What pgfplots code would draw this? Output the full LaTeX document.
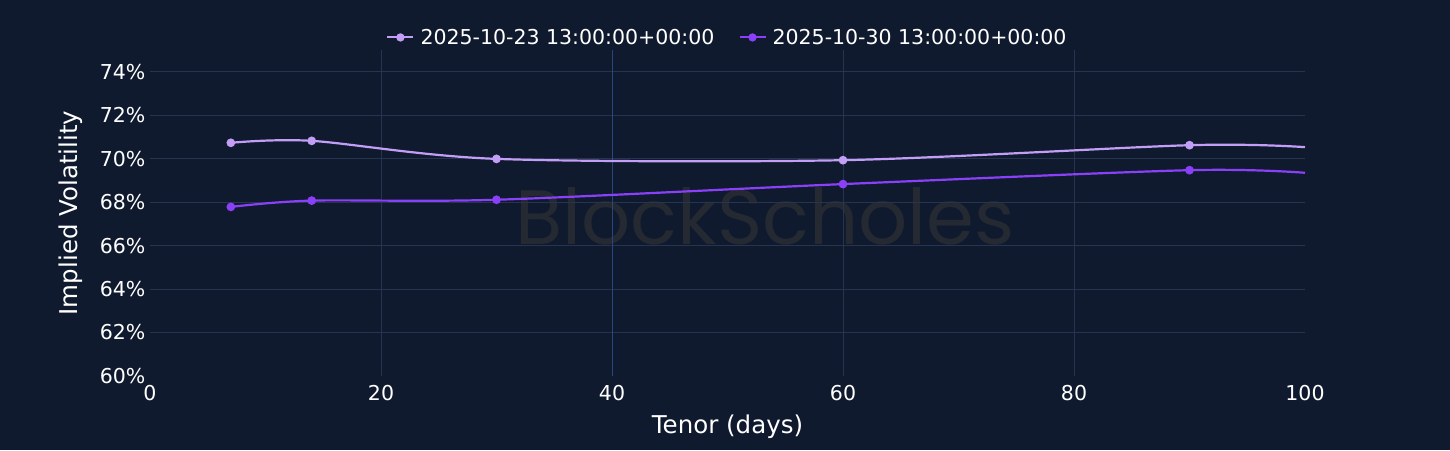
\documentclass[border=0pt]{standalone}
\usepackage{pgfplots}
\pgfplotsset{compat=1.18}
\usepackage{fontspec}
\setmainfont{DejaVu Sans}
\newfontfamily\wmfont{Poppins}
\definecolor{bg}{HTML}{101A2E}
\definecolor{gridc}{HTML}{26344F}
\definecolor{gridb}{HTML}{2A4580}
\definecolor{lightp}{HTML}{C29EF6}
\definecolor{darkp}{HTML}{8A3FF8}
\definecolor{wm}{HTML}{252932}
\begin{document}
\begin{tikzpicture}[x=1pt,y=1pt]
\fill[bg] (0,0) rectangle (1450,450);
\useasboundingbox (0,0) rectangle (1450,450);
\node[text=wm,font=\wmfont\fontsize{77}{80}\selectfont] at (765,234) {BlockScholes};
\begin{axis}[
  at={(150pt,74pt)}, anchor=south west,
  width=1155pt, height=326pt, scale only axis,
  xmin=0, xmax=100, ymin=60, ymax=75,
  xtick={20,40,60,80},
  extra x ticks={0,100},
  ytick={62,64,66,68,70,72,74},
  extra y ticks={60},
  extra tick style={grid=none},
  yticklabel={\pgfmathprintnumber{\tick}\%},
  /pgf/number format/assume math mode=true,
  axis line style={draw=none},
  tick style={draw=none},
  grid=major,
  major grid style={gridc, line width=1pt},
  ticklabel style={text=white, font=\fontsize{20.5}{24}\selectfont},
  xticklabel style={yshift=-6pt},
  yticklabel style={xshift=-1pt},
  extra y tick style={yticklabel={\pgfmathprintnumber{\tick}\%}},
  xlabel={Tenor (days)}, ylabel={Implied Volatility},
  label style={text=white, font=\fontsize{24.5}{28}\selectfont},
  xlabel style={yshift=-7pt},
  ylabel style={yshift=10pt},
  legend style={at={(0.5,1)}, anchor=south, draw=none, fill=none,
    text=white, font=\fontsize{20.5}{24}\selectfont, legend columns=2,
    /tikz/every even column/.append style={column sep=22pt}, yshift=0pt},
  legend image code/.code={\draw[#1, line width=2pt] (0pt,0pt) -- (26pt,0pt); \fill[#1] (13pt,0pt) circle (3pt); \path (30pt,0pt);},
  clip=true,
]
\draw[gridb, line width=1pt] (axis cs:40,60) -- (axis cs:40,75);
\addplot[lightp, line width=2.2pt, smooth, tension=0.5, mark=*, mark size=3.2pt,
  mark indices={1,2,3,4,5}]
  coordinates {(7,70.73) (14,70.82) (30,69.99) (60,69.93) (90,70.62) (100,70.53)};
\addlegendentry{2025-10-23 13:00:00+00:00}
\addplot[darkp, line width=2.2pt, smooth, tension=0.5, mark=*, mark size=3.2pt,
  mark indices={1,2,3,4,5}]
  coordinates {(7,67.78) (14,68.07) (30,68.11) (60,68.83) (90,69.47) (100,69.35)};
\addlegendentry{2025-10-30 13:00:00+00:00}
\end{axis}
\end{tikzpicture}
\end{document}
